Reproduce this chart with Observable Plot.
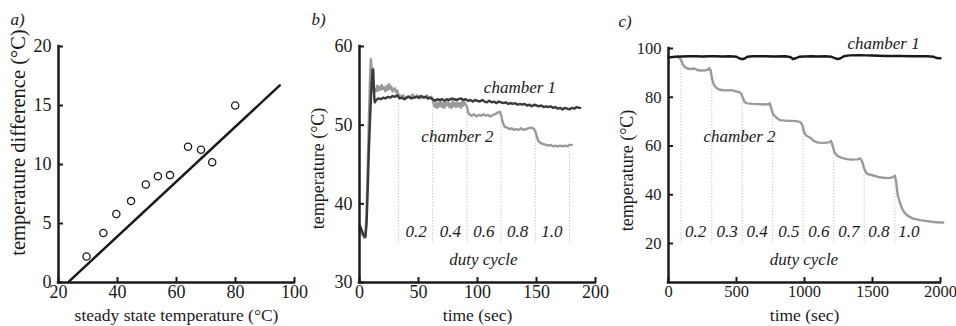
<!DOCTYPE html>
<html><head><meta charset="utf-8">
<script src="https://cdn.jsdelivr.net/npm/d3@7"></script>
<script src="https://cdn.jsdelivr.net/npm/@observablehq/plot@0.6"></script>
<style>
body{margin:0;background:#fff;}
#wrap{position:relative;width:956px;height:326px;overflow:hidden;}
#wrap > div{position:absolute;top:0;}
svg{overflow:visible;}
</style></head><body>
<div id="wrap"><div id="pa" style="left:0px"></div><div id="pb" style="left:310px"></div><div id="pc" style="left:618px"></div></div>
<script>
// ---------- Panel a data ----------
const aSteadyTemp = [29.5, 35.2, 39.6, 44.6, 49.6, 53.7, 57.8, 63.9, 68.3, 72.1, 79.9];
const aTempDiff   = [2.2, 4.2, 5.8, 6.9, 8.3, 9.0, 9.1, 11.5, 11.25, 10.2, 15.0];
const aFitX = [23.6, 95];
const aFitY = [0.1, 16.7];
const aXTicks = [20, 40, 60, 80, 100];
const aYTicks = [0, 5, 10, 15, 20];

// ---------- Panel b data (time sec, temperature °C) ----------
const bChamber1 = [[0,37.3],[1,37.0],[2,36.6],[3,36.2],[4,35.9],[5,35.8],[6,37.5],[7,42],[8,47],[9,51],[10,54.5],[11,57.0],[11.6,57.1],[12,55.5],[12.6,53.3],[13,52.9],[14,53.2],[16,53.4],[18,53.3],[20,53.5],[22,53.4],[24,53.6],[26,53.5],[28,53.7],[30,53.6],[32,53.8],[34,53.4],[36,53.5],[38,53.3],[40,53.5],[42,53.6],[44,53.4],[46,53.5],[48,53.6],[50,53.5],[52,53.7],[54,53.5],[56,53.6],[58,53.4],[60,53.5],[62,53.3],[64,53.1],[66,53.3],[68,53.2],[70,53.3],[72,53.1],[74,53.3],[76,53.2],[78,53.4],[80,53.3],[82,53.2],[84,53.3],[86,53.4],[88,53.2],[90,53.3],[92,53.1],[94,53.2],[96,53.0],[98,53.2],[100,53.1],[102,53.0],[104,53.2],[106,53.0],[108,52.9],[110,53.1],[112,52.9],[114,53.0],[116,52.8],[118,53.0],[120,52.9],[122,52.8],[124,52.9],[126,52.7],[128,52.8],[130,52.7],[132,52.8],[134,52.6],[136,52.7],[138,52.6],[140,52.7],[142,52.5],[144,52.6],[146,52.4],[148,52.6],[150,52.5],[152,52.4],[154,52.5],[156,52.3],[158,52.4],[160,52.3],[162,52.4],[164,52.2],[166,52.3],[168,52.1],[170,52.2],[172,52.0],[174,52.2],[176,52.1],[178,52.0],[180,52.2],[182,52.1],[184,52.3],[186,52.2],[187,52.2]];
const bChamber2 = [[0,36.8],[1,36.5],[2,36.2],[3,35.9],[4,35.7],[5,35.8],[6,39],[7,45],[8,51],[9,56.5],[9.6,58.4],[10,57.8],[11,55.5],[12,54.2],[13,54.6],[14,54.3],[15,55.0],[16,54.4],[17,54.9],[18,54.5],[19,55.1],[20,54.6],[21,54.8],[22,54.3],[23,55.0],[24,54.5],[25,55.2],[26,54.6],[27,54.9],[28,54.3],[29,54.5],[30,54.7],[31,54.2],[32,54.4],[33,53.9],[35,53.6],[37,53.8],[39,53.4],[41,53.7],[43,53.5],[45,53.9],[47,53.5],[49,53.8],[51,53.4],[53,53.7],[55,53.5],[57,53.8],[59,53.4],[61,53.6],[62,53.2],[63,52.6],[64,52.3],[65,52.8],[66,52.2],[67,52.9],[68,52.4],[69,53.0],[70,52.3],[71,52.8],[72,52.2],[73,52.9],[74,52.5],[75,53.0],[76,52.3],[77,52.7],[78,52.2],[79,53.1],[80,52.4],[81,52.8],[82,52.3],[83,52.9],[84,52.4],[85,52.8],[86,52.2],[87,53.0],[88,52.5],[89,52.9],[90,52.6],[91,52.4],[92,51.6],[93,51.4],[95,51.2],[97,51.4],[99,51.1],[101,51.3],[103,51.2],[105,51.4],[107,51.2],[109,51.3],[111,51.1],[113,51.3],[115,51.4],[117,51.6],[119,51.7],[120,51.3],[121,50.6],[122,50.1],[123,49.8],[125,49.7],[127,49.5],[129,49.6],[131,49.4],[133,49.5],[135,49.4],[137,49.6],[139,49.4],[141,49.5],[143,49.6],[145,49.7],[147,49.6],[148,49.5],[149,49.2],[150,48.7],[151,48.2],[152,47.9],[154,47.7],[156,47.6],[158,47.5],[160,47.4],[162,47.5],[164,47.3],[166,47.4],[168,47.3],[170,47.4],[172,47.3],[174,47.4],[176,47.3],[178,47.5],[180,47.5]];
const bDutyTimes = [33, 62, 91, 120, 149, 178];
const bDutyTops  = [53.0, 52.4, 51.6, 50.4, 48.8, 47.3];
const bDutyLabels = ["0.2", "0.4", "0.6", "0.8", "1.0"];
const bDutyLabelX = [48, 77, 105.5, 134, 163];
const bXTicks = [0, 50, 100, 150, 200];
const bYTicks = [30, 40, 50, 60];

// ---------- Panel c data (time sec, temperature °C) ----------
const cChamber1 = [[0,96.3],[50,96.6],[100,96.7],[150,96.8],[200,96.8],[250,96.7],[300,96.8],[350,96.8],[400,96.7],[450,96.8],[500,96.6],[520,96.0],[540,95.6],[560,95.9],[580,96.6],[620,96.8],[700,96.8],[780,96.7],[860,96.8],[900,96.4],[915,95.6],[935,96.0],[960,96.6],[1000,96.7],[1050,96.8],[1100,96.7],[1150,96.8],[1200,96.6],[1225,96.0],[1245,95.6],[1265,96.0],[1290,96.8],[1330,97.2],[1400,97.3],[1450,97.2],[1500,97.1],[1550,97.0],[1600,96.9],[1700,96.9],[1800,96.8],[1900,96.8],[1950,96.6],[1970,96.1],[2000,96.0]];
const cChamber2 = [[70,96.7],[90,95.5],[110,93],[130,92],[160,91.6],[190,91.8],[210,91.2],[240,91.0],[270,91.1],[290,91.3],[300,92.0],[310,91.0],[320,87.5],[335,85],[350,84],[370,83.2],[400,82.9],[430,82.8],[460,82.9],[490,82.5],[520,82.1],[535,81.5],[545,80],[560,78],[580,77.5],[620,77.3],[660,77.2],[700,77.0],[730,77.1],[745,77.5],[755,75.5],[770,73],[790,71.8],[820,70.6],[860,70.4],[900,70.3],[940,70.2],[970,69.8],[985,68.5],[995,66],[1010,64.3],[1040,63.5],[1070,62],[1100,61.4],[1140,61.3],[1180,61.5],[1195,62.0],[1205,60.5],[1220,57.5],[1240,56],[1270,55.2],[1310,54.6],[1350,54.4],[1390,54.5],[1410,54.9],[1425,53.5],[1440,50.5],[1460,48.6],[1500,48.0],[1540,47.3],[1580,47.0],[1620,46.8],[1650,47.2],[1665,47.8],[1675,45],[1685,40],[1700,37],[1720,34],[1740,32.3],[1770,31.0],[1800,30.2],[1850,29.6],[1900,29.2],[1950,28.8],[2000,28.6],[2020,28.6]];
const cDutyTimes = [92, 318, 542, 766, 990, 1215, 1439, 1664];
const cDutyTops  = [94.5, 87, 80, 73.5, 67, 58, 51, 47];
const cDutyLabels = ["0.2", "0.3", "0.4", "0.5", "0.6", "0.7", "0.8", "1.0"];
const cDutyLabelX = [199, 431, 652, 885, 1105, 1326, 1546, 1767];
const cXTicks = [0, 500, 1000, 1500, 2000];
const cYTicks = [20, 40, 60, 80, 100];

const INK = "#1a1a1a";
const FONT = "Liberation Serif";

function panel(el, o) {
  const H = 326;
  const pw = o.width - o.ml - o.mr, ph = H - o.mt - o.mb;
  const chart = Plot.plot({
    width: o.width, height: H,
    marginLeft: o.ml, marginRight: o.mr, marginTop: o.mt, marginBottom: o.mb,
    style: {fontFamily: FONT, fontSize: "17px", color: INK, background: "transparent", overflow: "visible"},
    x: {domain: o.xDomain},
    y: {domain: o.yDomain},
    marks: [
      ...o.marks,
      Plot.ruleX([o.xDomain[0]], {stroke: INK, strokeWidth: 2.5, strokeLinecap: "square"}),
      Plot.ruleY([o.yDomain[0]], {stroke: INK, strokeWidth: 2.5, strokeLinecap: "square"}),
      Plot.tickX(o.xTicks, {x: d => d, insetTop: ph - 5, stroke: INK, strokeWidth: 2}),
      Plot.tickY(o.yTicks, {y: d => d, insetRight: pw - 5, stroke: INK, strokeWidth: 2}),
      Plot.axisX({ticks: o.xTicks, tickSize: 0, tickPadding: 3, tickFormat: d3.format("d"), label: null, fontSize: o.tickFont, fontFamily: FONT}),
      Plot.axisY({ticks: o.yTicks, tickSize: 0, tickPadding: 7, tickFormat: d3.format("d"), label: null, fontSize: o.tickFont, fontFamily: FONT}),
      Plot.text([o.xLabel], {frameAnchor: "bottom", dy: 38, textAnchor: "middle", lineAnchor: "bottom", text: d => d, fontSize: 17.5, fontFamily: FONT, fill: INK}),
      Plot.text([o.yLabel], {frameAnchor: "left", dx: -48, dy: o.yLabelDy, rotate: -90, textAnchor: "middle", lineAnchor: "top", text: d => d, fontSize: o.yLabelSize, fontFamily: FONT, fill: INK}),
      Plot.text([o.tag], {frameAnchor: "top-left", dx: o.tagDx, dy: -34, text: d => d, fontStyle: "italic", fontSize: 17, fontFamily: FONT, textAnchor: "start", lineAnchor: "top", fill: INK})
    ]
  });
  document.getElementById(el).appendChild(chart);
}

const it = {fontStyle: "italic", fontSize: 17, fontFamily: FONT, fill: INK};

// Panel a
panel("pa", {
  width: 310, ml: 58, mr: 16, mt: 46, mb: 44,
  xDomain: [20, 100], yDomain: [0, 20], xTicks: aXTicks, yTicks: aYTicks, tickFont: 18,
  xLabel: "steady state temperature (°C)", yLabel: "temperature difference (°C)", yLabelSize: 20.5, yLabelDy: -22,
  tag: "a)", tagDx: -48,
  marks: [
    Plot.line(aFitX, {x: aFitX, y: aFitY, stroke: INK, strokeWidth: 2.5}),
    Plot.dot(aSteadyTemp, {x: aSteadyTemp, y: aTempDiff, r: 3.6, stroke: INK, strokeWidth: 1.3, fill: "white"})
  ]
});

// Panel b
panel("pb", {
  width: 312, ml: 49, mr: 27, mt: 46, mb: 44,
  xDomain: [0, 200], yDomain: [30, 60], xTicks: bXTicks, yTicks: bYTicks, tickFont: 18,
  xLabel: "time (sec)", yLabel: "temperature (°C)", yLabelSize: 18, yLabelDy: 4,
  tag: "b)", tagDx: -48,
  marks: [
    Plot.ruleX(bDutyTimes, {x: d => d, y1: 35.05, y2: (d, i) => bDutyTops[i], stroke: "#b3b3b3", strokeWidth: 1, strokeDasharray: "1,2"}),
    Plot.text(bDutyLabels, {x: (d, i) => bDutyLabelX[i], y: 36.5, text: d => d, ...it}),
    Plot.text(["duty cycle"], {x: 105, y: 32.9, text: d => d, ...it}),
    Plot.line(bChamber2, {x: d => d[0], y: d => d[1], stroke: "#9a9a9a", strokeWidth: 2.4}),
    Plot.line(bChamber1, {x: d => d[0], y: d => d[1], stroke: "#3a3a3a", strokeWidth: 2.4}),
    Plot.text(["chamber 1"], {x: 136, y: 54.75, text: d => d, ...it}),
    Plot.text(["chamber 2"], {x: 83, y: 48.5, text: d => d, ...it})
  ]
});

// Panel c
panel("pc", {
  width: 338, ml: 50, mr: 16, mt: 48, mb: 44,
  xDomain: [0, 2000], yDomain: [4, 100], xTicks: cXTicks, yTicks: cYTicks, tickFont: 16.5,
  xLabel: "time (sec)", yLabel: "temperature (°C)", yLabelSize: 18, yLabelDy: 5,
  tag: "c)", tagDx: -50,
  marks: [
    Plot.ruleX(cDutyTimes, {x: d => d, y1: 20.3, y2: (d, i) => cDutyTops[i], stroke: "#b3b3b3", strokeWidth: 1, strokeDasharray: "1,2"}),
    Plot.text(cDutyLabels, {x: (d, i) => cDutyLabelX[i], y: 24.8, text: d => d, ...it}),
    Plot.text(["duty cycle"], {x: 996, y: 13.3, text: d => d, ...it}),
    Plot.line(cChamber2, {x: d => d[0], y: d => d[1], stroke: "#9a9a9a", strokeWidth: 2.4}),
    Plot.line(cChamber1, {x: d => d[0], y: d => d[1], stroke: "#1a1a1a", strokeWidth: 2.4}),
    Plot.text(["chamber 1"], {x: 1581, y: 101.9, text: d => d, ...it}),
    Plot.text(["chamber 2"], {x: 522, y: 63.7, text: d => d, ...it})
  ]
});
</script>
</body></html>
